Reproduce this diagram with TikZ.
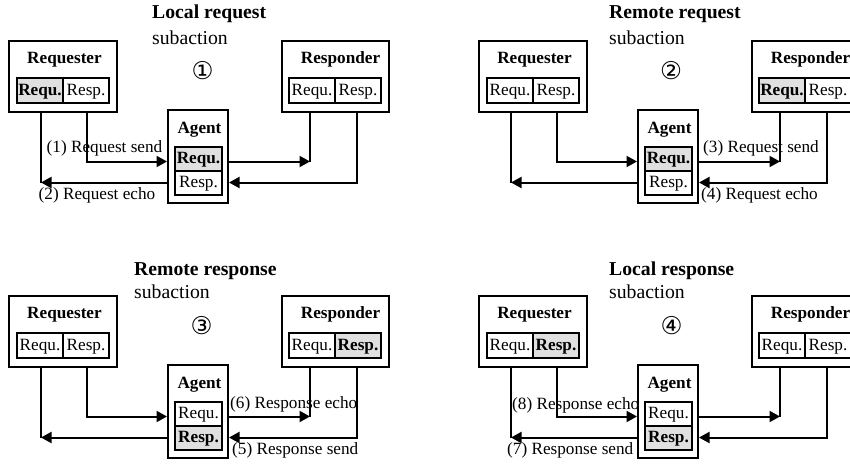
\documentclass[tikz,border=0pt]{standalone}
\usepackage{fontspec}
\setmainfont{Liberation Serif}
\newfontfamily\circfont{DejaVu Sans}
\usetikzlibrary{arrows.meta}

\newcommand\lblsize{\fontsize{17.2pt}{20pt}\selectfont}
\newcommand\ttlsize{\fontsize{19.7pt}{23pt}\selectfont}

\tikzset{
  frame/.style={draw, line width=2pt, fill=white, inner sep=0pt, rectangle},
  cell/.style={draw, line width=2pt, inner sep=0pt, font=\lblsize,
    text height=12.5pt, text depth=3.5pt},
  boxcell/.style={cell, minimum width=46pt, minimum height=25pt},
  agcell/.style={cell, minimum width=47pt, minimum height=24pt},
  idlecell/.style={},
  hotcell/.style={fill=black!12, font=\lblsize\bfseries},
  boxname/.style={font=\lblsize\bfseries, anchor=base, inner sep=0pt},
  ttl/.style={font=\ttlsize\bfseries, anchor=base west, inner sep=0pt},
  sub/.style={font=\ttlsize, anchor=base west, inner sep=0pt},
  num/.style={font=\circfont\fontsize{24.5pt}{26pt}\selectfont, inner sep=0pt},
  note/.style={font=\lblsize, anchor=base west, inner sep=0pt},
  wire/.style={line width=2pt},
  flow/.style={wire, -{Triangle[length=10.5pt,width=11pt]}},
}

% One subaction: requester, responder and agent with their connectors.
% #1 suffix, #2 shift, #3..#8 styles of the six register cells
\newcommand\drawstage[8]{%
  \begin{scope}[shift={#2}]
    \node[frame, minimum width=108pt, minimum height=71pt] (req#1) at (63,76.5) {};
    \node[boxname] (reqn#1) at (64.5,63.5) {Requester};
    \node[boxcell,#3] (reqq#1) at (40,90.5) {Requ.};
    \node[boxcell,#4] (reqs#1) at (86,90.5) {Resp.};
    \node[frame, minimum width=107pt, minimum height=71pt] (rsp#1) at (335.5,76.5) {};
    \node[boxname] (rspn#1) at (340.5,63.5) {Responder};
    \node[boxcell,#5] (rspq#1) at (312,90.5) {Requ.};
    \node[boxcell,#6] (rsps#1) at (358,90.5) {Resp.};
    \node[frame, minimum width=60pt, minimum height=93pt] (ag#1) at (198,156.5) {};
    \node[boxname] (agn#1) at (199.5,133.5) {Agent};
    \node[agcell,#7] (agq#1) at (198.5,159) {Requ.};
    \node[agcell,#8] (ags#1) at (198.5,183) {Resp.};
    \coordinate (ra#1) at (41,182.5);
    \coordinate (rb#1) at (87,161.5);
    \coordinate (sa#1) at (310,161.5);
    \coordinate (sb#1) at (357,182.5);
    \draw[wire] (req#1.south -| ra#1) -- (ra#1);
    \draw[flow] (ag#1.west |- ra#1) -- (ra#1);
    \draw[flow] (req#1.south -| rb#1) |- (ag#1.west |- rb#1);
    \draw[flow] (ag#1.east |- sa#1) -- (sa#1);
    \draw[wire] (sa#1) -- (rsp#1.south -| sa#1);
    \draw[flow] (rsp#1.south -| sb#1) |- (ag#1.east |- sb#1);
  \end{scope}}

\begin{document}
\begin{tikzpicture}[x=1pt, y=-1pt]
  \useasboundingbox (0,0) rectangle (850,463);
  \clip (0,0) rectangle (850,463);

  % headings
  \node[ttl] (t1) at (152,18.3) {Local request};
  \node[sub] (s1) at (152,44) {subaction};
  \node[num] (n1) at (202.5,70.5) {①};
  \node[ttl] (t2) at (609,18.3) {Remote request};
  \node[sub] (s2) at (609,44) {subaction};
  \node[num] (n2) at (671,70.5) {②};
  \node[ttl] (t3) at (134,275) {Remote response};
  \node[sub] (s3) at (134,298.3) {subaction};
  \node[num] (n3) at (201.5,325.5) {③};
  \node[ttl] (t4) at (609,275) {Local response};
  \node[sub] (s4) at (609,298.3) {subaction};
  \node[num] (n4) at (671.5,325.5) {④};

  % transfer labels
  \node[note] (l1) at (46.5,152) {(1) Request send};
  \node[note] (l2) at (38.5,199) {(2) Request echo};
  \node[note] (l3) at (703,152.5) {(3) Request send};
  \node[note] (l4) at (701,199) {(4) Request echo};
  \node[note] (l6) at (230,408) {(6) Response echo};
  \node[note] (l5) at (232,454) {(5) Response send};
  \node[note] (l8) at (512,409) {(8) Response echo};
  \node[note] (l7) at (507,454) {(7) Response send};

  \drawstage{1}{(0,0)}{hotcell}{idlecell}{idlecell}{idlecell}{hotcell}{idlecell}
  \drawstage{2}{(470,0)}{idlecell}{idlecell}{hotcell}{idlecell}{hotcell}{idlecell}
  \drawstage{3}{(0,255)}{idlecell}{idlecell}{idlecell}{hotcell}{idlecell}{hotcell}
  \drawstage{4}{(470,255)}{idlecell}{hotcell}{idlecell}{idlecell}{idlecell}{hotcell}
\end{tikzpicture}
\end{document}
